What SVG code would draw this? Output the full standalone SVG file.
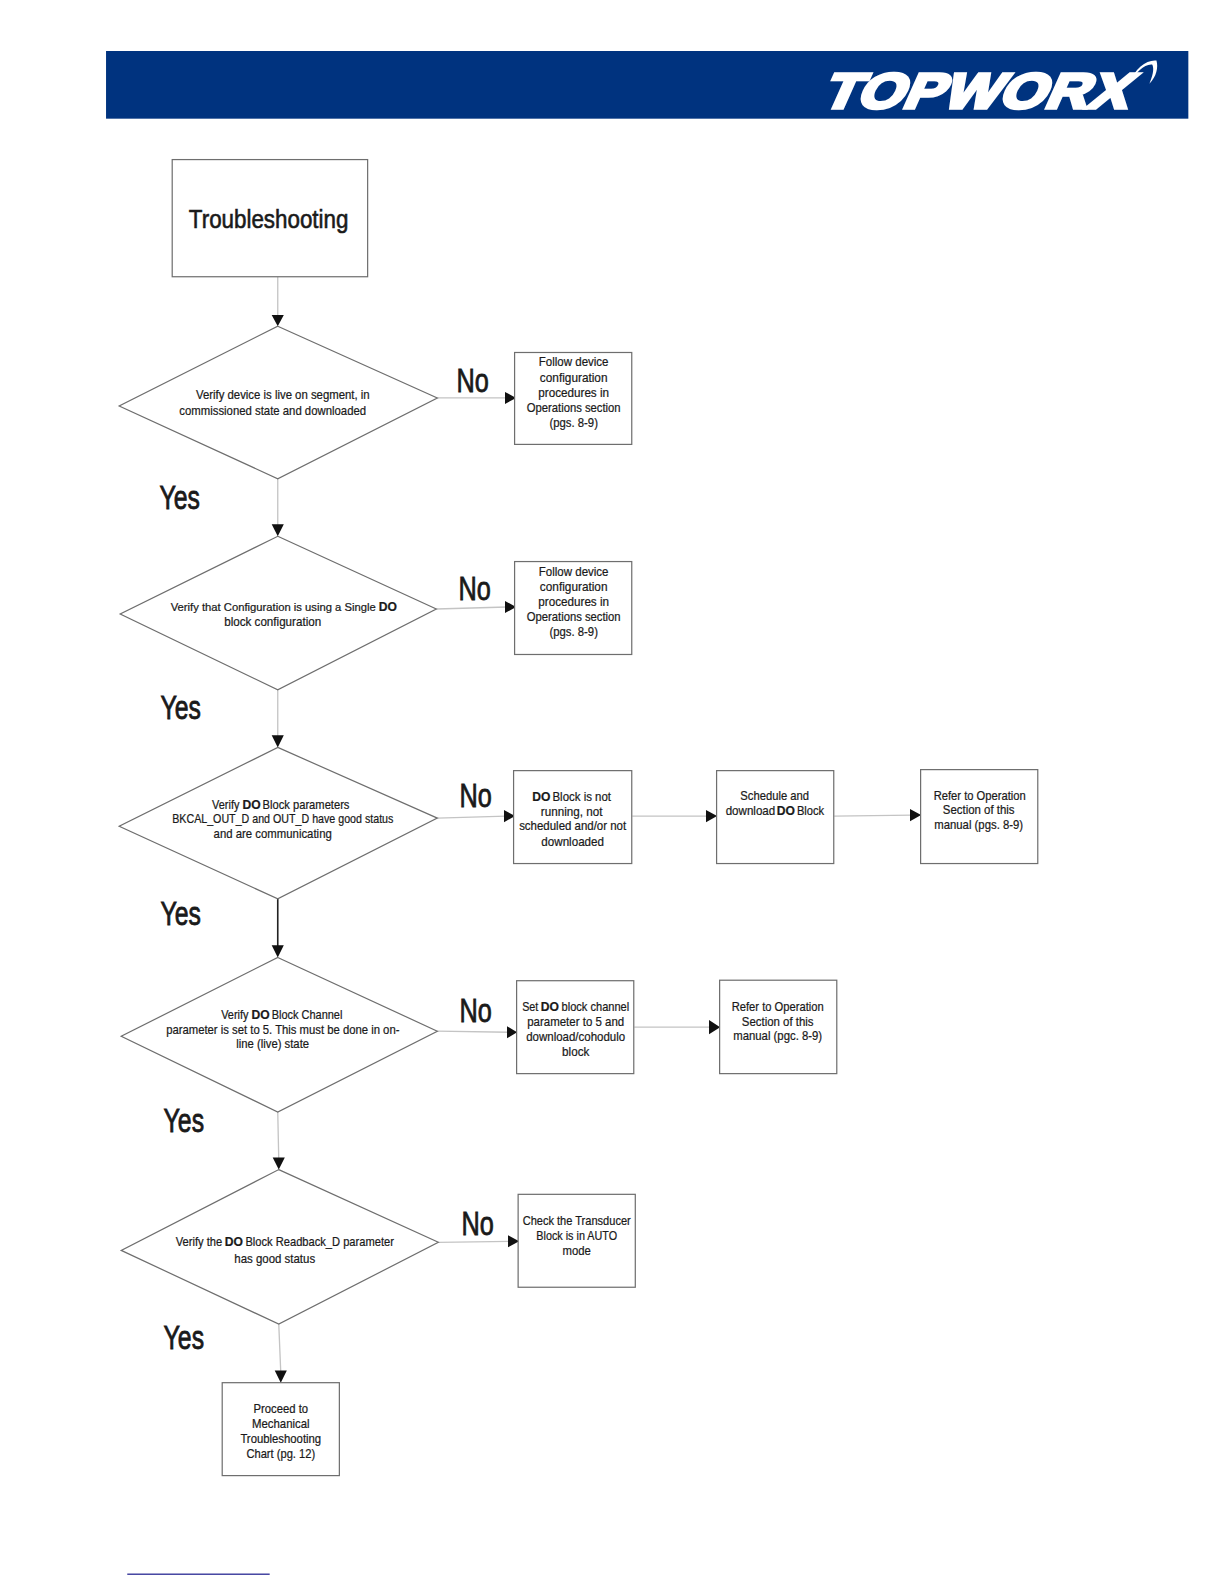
<svg xmlns="http://www.w3.org/2000/svg" width="1224" height="1584" viewBox="0 0 1224 1584">
<style>
text{font-family:"Liberation Sans",Arial,sans-serif;fill:#1a1a1a;text-anchor:middle;stroke:#1a1a1a;stroke-width:.22px}
.b{fill:#fff;stroke:#6e6e6e;stroke-width:1.2}
.t{font-size:12px}
.l{font-size:32px;stroke-width:.8px}
.do{font-size:12px;font-weight:bold}
.c{fill:none;stroke:#c4c4c4;stroke-width:1.3}
.h{fill:#111;stroke:none}
</style>
<g id="page" transform="scale(1.01)">
<rect id="header" x="104" y="50.500" width="1061.500" height="67" fill="#00337f" transform="scale(1.0095 1)"/>
<g id="logo">
<text transform="translate(963 106.500) skewX(-24)" x="0" y="0" style="font-family:'Liberation Sans',sans-serif;font-weight:bold;font-size:49px;fill:#fff;stroke:#fff;stroke-width:3.500px" textLength="303" lengthAdjust="spacingAndGlyphs">TOPWORX</text>
<path d="M1118 82C1124 68 1135 59 1145 60C1147 67 1145 76 1138 83C1141 75 1143 69 1141 64C1133 63 1125 72 1118 82Z" fill="#fff"/>
</g>
<g id="connectors">
<path class="c" d="M275 274V314M275 474V521M275 683V730M275 1101L276 1148M276 1311L278 1359"/>
<path class="c" d="M433 394H502M432 603L502 601M433 810L501 808M626 808H701M826 808L903 807M433 1021L504 1022M628 1017H704M434 1230L505 1229"/>
<path d="M275 890V938" fill="none" stroke="#222" stroke-width="1.6"/>
<path class="h" d="M269 312H281L275 323ZM269 519H281L275 531ZM269 728H281L275 740ZM269 936H281L275 948ZM270 1146H282L276 1158ZM272 1357H284L278 1369Z"/>
<path class="h" d="M500 388L511 394L500 400ZM500 595L511 601L500 607ZM499 802L510 808L499 814ZM699 802L710 808L699 814ZM901 801L912 807L901 813ZM502 1016L512 1022L502 1028ZM702 1010L713 1017L702 1024ZM503 1223L514 1229L503 1235Z"/>
</g>
<g id="n-start"><rect class="b" x="170.500" y="158" width="193.500" height="116"/><text x="266" y="226" style="font-size:26px;stroke-width:.6px" textLength="158" lengthAdjust="spacingAndGlyphs">Troubleshooting</text></g>
<g id="d1"><polygon class="b" points="275,323 433,394 275,474 118,402"/>
<text class="t" x="280" y="395" textLength="172" lengthAdjust="spacingAndGlyphs">Verify device is live on segment, in</text>
<text class="t" x="270" y="411" textLength="185" lengthAdjust="spacingAndGlyphs">commissioned state and downloaded</text></g>
<g id="d2"><polygon class="b" points="275,531 432,603 275,683 119,608"/>
<text x="270.500" y="605" style="font-size:11.200px" textLength="203" lengthAdjust="spacingAndGlyphs">Verify that Configuration is using a Single</text><text class="do" x="384" y="605">DO</text>
<text class="t" x="270" y="620" textLength="96" lengthAdjust="spacingAndGlyphs">block configuration</text></g>
<g id="d3"><polygon class="b" points="275,740 433,810 275,890 118,818"/>
<text class="t" x="223.500" y="801" textLength="27" lengthAdjust="spacingAndGlyphs">Verify</text><text class="do" x="249" y="801">DO</text><text class="t" x="303" y="801" textLength="86" lengthAdjust="spacingAndGlyphs">Block parameters</text>
<text class="t" x="280" y="815" textLength="219" lengthAdjust="spacingAndGlyphs">BKCAL_OUT_D and OUT_D have good status</text>
<text class="t" x="270" y="830" textLength="117" lengthAdjust="spacingAndGlyphs">and are communicating</text></g>
<g id="d4"><polygon class="b" points="275,948 433,1021 275,1101 120,1026"/>
<text class="t" x="232.500" y="1009" textLength="27" lengthAdjust="spacingAndGlyphs">Verify</text><text class="do" x="258" y="1009">DO</text><text class="t" x="304" y="1009" textLength="70" lengthAdjust="spacingAndGlyphs">Block Channel</text>
<text class="t" x="280" y="1024" textLength="231" lengthAdjust="spacingAndGlyphs">parameter is set to 5. This must be done in on-</text>
<text class="t" x="270" y="1038" textLength="72" lengthAdjust="spacingAndGlyphs">line (live) state</text></g>
<g id="d5"><polygon class="b" points="276,1158 434,1230 276,1311 120,1238"/>
<text class="t" x="197" y="1234" textLength="46" lengthAdjust="spacingAndGlyphs">Verify the</text><text class="do" x="231.500" y="1234">DO</text><text class="t" x="316.500" y="1234" textLength="147" lengthAdjust="spacingAndGlyphs">Block Readback_D parameter</text>
<text class="t" x="272" y="1250" textLength="80" lengthAdjust="spacingAndGlyphs">has good status</text></g>
<g id="n1"><rect class="b" x="509.500" y="349" width="116" height="91"/>
<text class="t" x="568" y="362" textLength="69" lengthAdjust="spacingAndGlyphs">Follow device</text>
<text class="t" x="568" y="378" textLength="67" lengthAdjust="spacingAndGlyphs">configuration</text>
<text class="t" x="568" y="393" textLength="70" lengthAdjust="spacingAndGlyphs">procedures in</text>
<text class="t" x="568" y="408" textLength="93" lengthAdjust="spacingAndGlyphs">Operations section</text>
<text class="t" x="568" y="423" textLength="48" lengthAdjust="spacingAndGlyphs">(pgs. 8-9)</text></g>
<g id="n2"><rect class="b" x="509.500" y="556" width="116" height="92"/>
<text class="t" x="568" y="570" textLength="69" lengthAdjust="spacingAndGlyphs">Follow device</text>
<text class="t" x="568" y="585" textLength="67" lengthAdjust="spacingAndGlyphs">configuration</text>
<text class="t" x="568" y="600" textLength="70" lengthAdjust="spacingAndGlyphs">procedures in</text>
<text class="t" x="568" y="615" textLength="93" lengthAdjust="spacingAndGlyphs">Operations section</text>
<text class="t" x="568" y="630" textLength="48" lengthAdjust="spacingAndGlyphs">(pgs. 8-9)</text></g>
<g id="n3"><rect class="b" x="508.500" y="763" width="117" height="92"/>
<text class="do" x="536" y="793">DO</text><text class="t" x="576" y="793" textLength="58" lengthAdjust="spacingAndGlyphs">Block is not</text>
<text class="t" x="566" y="808" textLength="61" lengthAdjust="spacingAndGlyphs">running, not</text>
<text class="t" x="567" y="822" textLength="106" lengthAdjust="spacingAndGlyphs">scheduled and/or not</text>
<text class="t" x="567" y="838" textLength="62" lengthAdjust="spacingAndGlyphs">downloaded</text></g>
<g id="n3b"><rect class="b" x="709.500" y="763" width="116" height="92"/>
<text class="t" x="767" y="792" textLength="68" lengthAdjust="spacingAndGlyphs">Schedule and</text>
<text class="t" x="743" y="807" textLength="49" lengthAdjust="spacingAndGlyphs">download</text><text class="do" x="778" y="807">DO</text><text class="t" x="802.500" y="807" textLength="27" lengthAdjust="spacingAndGlyphs">Block</text></g>
<g id="n3c"><rect class="b" x="911.500" y="762" width="116" height="93"/>
<text class="t" x="970" y="792" textLength="91" lengthAdjust="spacingAndGlyphs">Refer to Operation</text>
<text class="t" x="969" y="806" textLength="71" lengthAdjust="spacingAndGlyphs">Section of this</text>
<text class="t" x="969" y="821" textLength="88" lengthAdjust="spacingAndGlyphs">manual (pgs. 8-9)</text></g>
<g id="n4"><rect class="b" x="511.500" y="971" width="116" height="92"/>
<text class="t" x="525" y="1001" textLength="16" lengthAdjust="spacingAndGlyphs">Set</text><text class="do" x="544.500" y="1001">DO</text><text class="t" x="589.500" y="1001" textLength="67" lengthAdjust="spacingAndGlyphs">block channel</text>
<text class="t" x="570" y="1016" textLength="96" lengthAdjust="spacingAndGlyphs">parameter to 5 and</text>
<text class="t" x="570" y="1031" textLength="98" lengthAdjust="spacingAndGlyphs">download/cohodulo</text>
<text class="t" x="570" y="1046" textLength="27" lengthAdjust="spacingAndGlyphs">block</text></g>
<g id="n4b"><rect class="b" x="712.500" y="970.500" width="116" height="92.500"/>
<text class="t" x="770" y="1001" textLength="91" lengthAdjust="spacingAndGlyphs">Refer to Operation</text>
<text class="t" x="770" y="1016" textLength="71" lengthAdjust="spacingAndGlyphs">Section of this</text>
<text class="t" x="770" y="1030" textLength="88" lengthAdjust="spacingAndGlyphs">manual (pgc. 8-9)</text></g>
<g id="n5"><rect class="b" x="513" y="1182.500" width="116" height="92"/>
<text class="t" x="571" y="1213" textLength="107" lengthAdjust="spacingAndGlyphs">Check the Transducer</text>
<text class="t" x="571" y="1228" textLength="80" lengthAdjust="spacingAndGlyphs">Block is in AUTO</text>
<text class="t" x="571" y="1243" textLength="28" lengthAdjust="spacingAndGlyphs">mode</text></g>
<g id="n6"><rect class="b" x="220" y="1369" width="116" height="92"/>
<text class="t" x="278" y="1399" textLength="54" lengthAdjust="spacingAndGlyphs">Proceed to</text>
<text class="t" x="278" y="1414" textLength="57" lengthAdjust="spacingAndGlyphs">Mechanical</text>
<text class="t" x="278" y="1429" textLength="80" lengthAdjust="spacingAndGlyphs">Troubleshooting</text>
<text class="t" x="278" y="1444" textLength="68" lengthAdjust="spacingAndGlyphs">Chart (pg. 12)</text></g>
<g id="labels">
<text class="l" x="468" y="388" textLength="32" lengthAdjust="spacingAndGlyphs">No</text>
<text class="l" x="470" y="594" textLength="32" lengthAdjust="spacingAndGlyphs">No</text>
<text class="l" x="471" y="799" textLength="32" lengthAdjust="spacingAndGlyphs">No</text>
<text class="l" x="471" y="1012" textLength="32" lengthAdjust="spacingAndGlyphs">No</text>
<text class="l" x="473" y="1223" textLength="32" lengthAdjust="spacingAndGlyphs">No</text>
<text class="l" x="178" y="504" textLength="40" lengthAdjust="spacingAndGlyphs">Yes</text>
<text class="l" x="179" y="712" textLength="40" lengthAdjust="spacingAndGlyphs">Yes</text>
<text class="l" x="179" y="916" textLength="40" lengthAdjust="spacingAndGlyphs">Yes</text>
<text class="l" x="182" y="1121" textLength="40" lengthAdjust="spacingAndGlyphs">Yes</text>
<text class="l" x="182" y="1336" textLength="40" lengthAdjust="spacingAndGlyphs">Yes</text>
</g>
<rect id="footer-rule" x="126" y="1558" width="141" height="1.200" fill="#1a1a8c"/>
</g>
</svg>
